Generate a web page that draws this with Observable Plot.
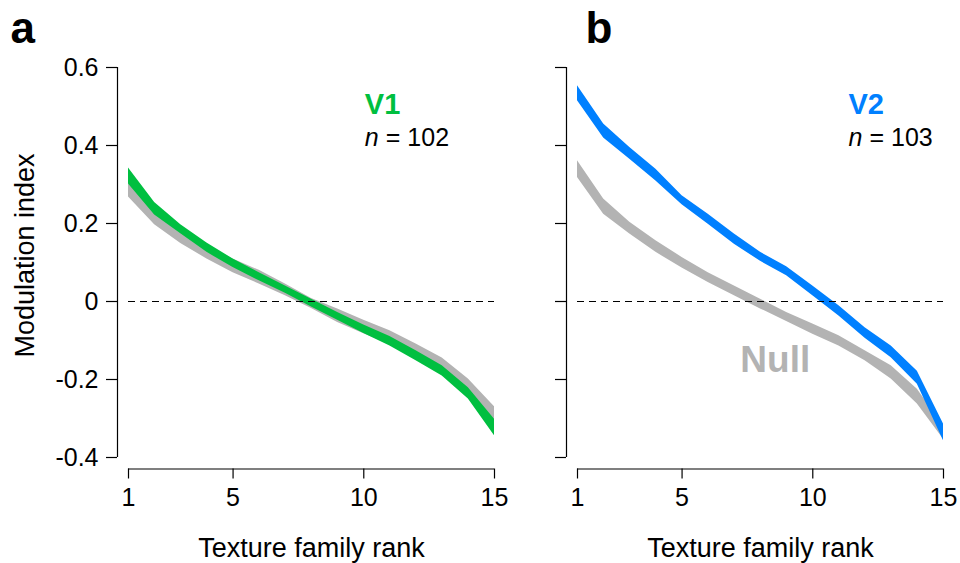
<!DOCTYPE html>
<html>
<head>
<meta charset="utf-8">
<script src="https://cdn.jsdelivr.net/npm/d3@7"></script>
<script src="https://cdn.jsdelivr.net/npm/@observablehq/plot@0.6"></script>
<style>
  html, body { margin: 0; padding: 0; background: #fff; }
  #wrap { position: relative; width: 960px; height: 563px; overflow: hidden; }
  .panel { position: absolute; top: 0; }
</style>
</head>
<body>
<div id="wrap"></div>
<script>
// ---- data ----
const ranks = [1, 2, 3, 4, 5, 6, 7, 8, 9, 10, 11, 12, 13, 14, 15];

// Panel a: V1 band (lower / upper)
const v1Lower = [0.301, 0.222, 0.174, 0.126, 0.087, 0.053, 0.021, -0.014, -0.048, -0.082, -0.114, -0.152, -0.191, -0.250, -0.344];
const v1Upper = [0.342, 0.254, 0.197, 0.150, 0.109, 0.074, 0.040, 0.006, -0.028, -0.060, -0.090, -0.126, -0.165, -0.221, -0.302];
// Panel a: null band
const nullALower = [0.268, 0.197, 0.149, 0.109, 0.074, 0.045, 0.015, -0.018, -0.054, -0.083, -0.110, -0.144, -0.180, -0.234, -0.305];
const nullAUpper = [0.303, 0.232, 0.184, 0.144, 0.109, 0.080, 0.045, 0.008, -0.019, -0.048, -0.075, -0.109, -0.145, -0.199, -0.270];

// Panel b: V2 band
const v2Lower = [0.515, 0.419, 0.365, 0.309, 0.248, 0.198, 0.147, 0.103, 0.066, 0.015, -0.037, -0.094, -0.144, -0.212, -0.357];
const v2Upper = [0.553, 0.455, 0.395, 0.339, 0.271, 0.224, 0.173, 0.126, 0.089, 0.040, -0.011, -0.067, -0.114, -0.179, -0.314];
// Panel b: null band
const nullBLower = [0.318, 0.224, 0.173, 0.126, 0.086, 0.049, 0.015, -0.019, -0.051, -0.084, -0.114, -0.152, -0.199, -0.263, -0.353];
const nullBUpper = [0.361, 0.263, 0.203, 0.156, 0.113, 0.074, 0.040, 0.006, -0.028, -0.058, -0.088, -0.126, -0.165, -0.225, -0.319];

const xTicks = [1, 5, 10, 15];
const yTicks = [-0.4, -0.2, 0, 0.2, 0.4, 0.6];
const yTickLabels = ["-0.4", "-0.2", "0", "0.2", "0.4", "0.6"];

const panelLetters = ["a", "b"];
const areaNames = ["V1", "V2"];
const nLabels = ["= 102", "= 103"];
const xTitle = "Texture family rank";
const yTitle = "Modulation index";
const nullLabel = "Null";

// ---- styles ----
const FONT = "'Liberation Sans', Arial, Helvetica, sans-serif";
const GREEN = "#00bf40";
const BLUE = "#0080ff";
const GRAY = "#b3b3b3";

const band = (lo, hi) => ranks.map((r, i) => ({ rank: r, lo: lo[i], hi: hi[i] }));

function makePanel(opts) {
  const { width, marginLeft, marginRight, series, nul, color, letter, name, nText, labelX, labelDx, showYLabels, extra } = opts;
  const marks = [
    Plot.areaY(nul, { x: "rank", y1: "lo", y2: "hi", fill: GRAY, curve: "linear" }),
    Plot.areaY(series, { x: "rank", y1: "lo", y2: "hi", fill: color, curve: "linear" }),
    Plot.ruleY([0], { x1: 1, x2: 15, stroke: "#000", strokeWidth: 1, strokeDasharray: "7,5" }),
    // y axis line (offset left)
    Plot.ruleX([1], { y1: -0.4, y2: 0.6, dx: -11, stroke: "#000", strokeWidth: 1.2 }),
    Plot.axisY({
      ticks: yTicks, tickSize: 11, dx: -11, tickPadding: 8, label: null,
      stroke: "#000", strokeWidth: 1.2, fill: "#000", fontSize: 25,
      tickFormat: showYLabels ? (d => yTickLabels[yTicks.indexOf(d)]) : (() => "")
    }),
    // x axis line (offset down)
    Plot.ruleY([-0.4], { x1: 1, x2: 15, dy: 11.5, stroke: "#000", strokeWidth: 1.2 }),
    Plot.axisX({
      ticks: xTicks, tickSize: 10, dy: 11.5, tickPadding: 9, label: null,
      stroke: "#000", strokeWidth: 1.2, fill: "#000", fontSize: 25,
      tickFormat: d => String(d)
    }),
    Plot.text([xTitle], { frameAnchor: "bottom", dy: 91, lineAnchor: "middle", fontSize: 27, fill: "#000" }),
    Plot.text([letter], { frameAnchor: "top-left", dx: opts.letterDx, dy: -25, lineAnchor: "bottom", textAnchor: "start", fontSize: 44, fontWeight: "bold", fill: "#000" }),
    Plot.text([name], { x: labelX, y: 0.482, dx: labelDx, textAnchor: "start", lineAnchor: "bottom", fontSize: 29, fontWeight: "bold", fill: color }),
    Plot.text(["n"], { x: labelX, y: 0.4, dx: labelDx, textAnchor: "start", lineAnchor: "bottom", fontSize: 25, fontStyle: "italic", fill: "#000" }),
    Plot.text([nText], { x: labelX, y: 0.4, dx: labelDx + 21, textAnchor: "start", lineAnchor: "bottom", fontSize: 25, fill: "#000" })
  ];
  if (extra) marks.push(...extra);
  return Plot.plot({
    width, height: 563,
    marginLeft, marginRight, marginTop: 67, marginBottom: 106,
    style: { fontFamily: FONT, fontSize: "25px", background: "transparent", overflow: "visible", color: "#000" },
    x: { domain: [1, 15] },
    y: { domain: [-0.4, 0.6] },
    marks
  });
}

const panelA = makePanel({
  width: 520, marginLeft: 128, marginRight: 26,
  series: band(v1Lower, v1Upper), nul: band(nullALower, nullAUpper),
  color: GREEN, letter: panelLetters[0], letterDx: -118,
  name: areaNames[0], nText: nLabels[0], labelX: 10, labelDx: 1,
  showYLabels: true,
  extra: [
    Plot.text([yTitle], { x: 1, y: 0.118, dx: -103, rotate: -90, textAnchor: "middle", lineAnchor: "middle", fontSize: 27, fill: "#000" })
  ]
});

const panelB = makePanel({
  width: 440, marginLeft: 57, marginRight: 17,
  series: band(v2Lower, v2Upper), nul: band(nullBLower, nullBUpper),
  color: BLUE, letter: panelLetters[1], letterDx: 8,
  name: areaNames[1], nText: nLabels[1], labelX: 11, labelDx: 9.5,
  showYLabels: false,
  extra: [
    Plot.text([nullLabel], { x: 7, y: -0.181, dx: 6, textAnchor: "start", lineAnchor: "bottom", fontSize: 37, fontWeight: "bold", fill: GRAY })
  ]
});

panelA.classList.add("panel");
panelA.style.left = "0px";
panelB.classList.add("panel");
panelB.style.left = "520px";
const wrap = document.getElementById("wrap");
wrap.appendChild(panelA);
wrap.appendChild(panelB);
</script>
</body>
</html>
